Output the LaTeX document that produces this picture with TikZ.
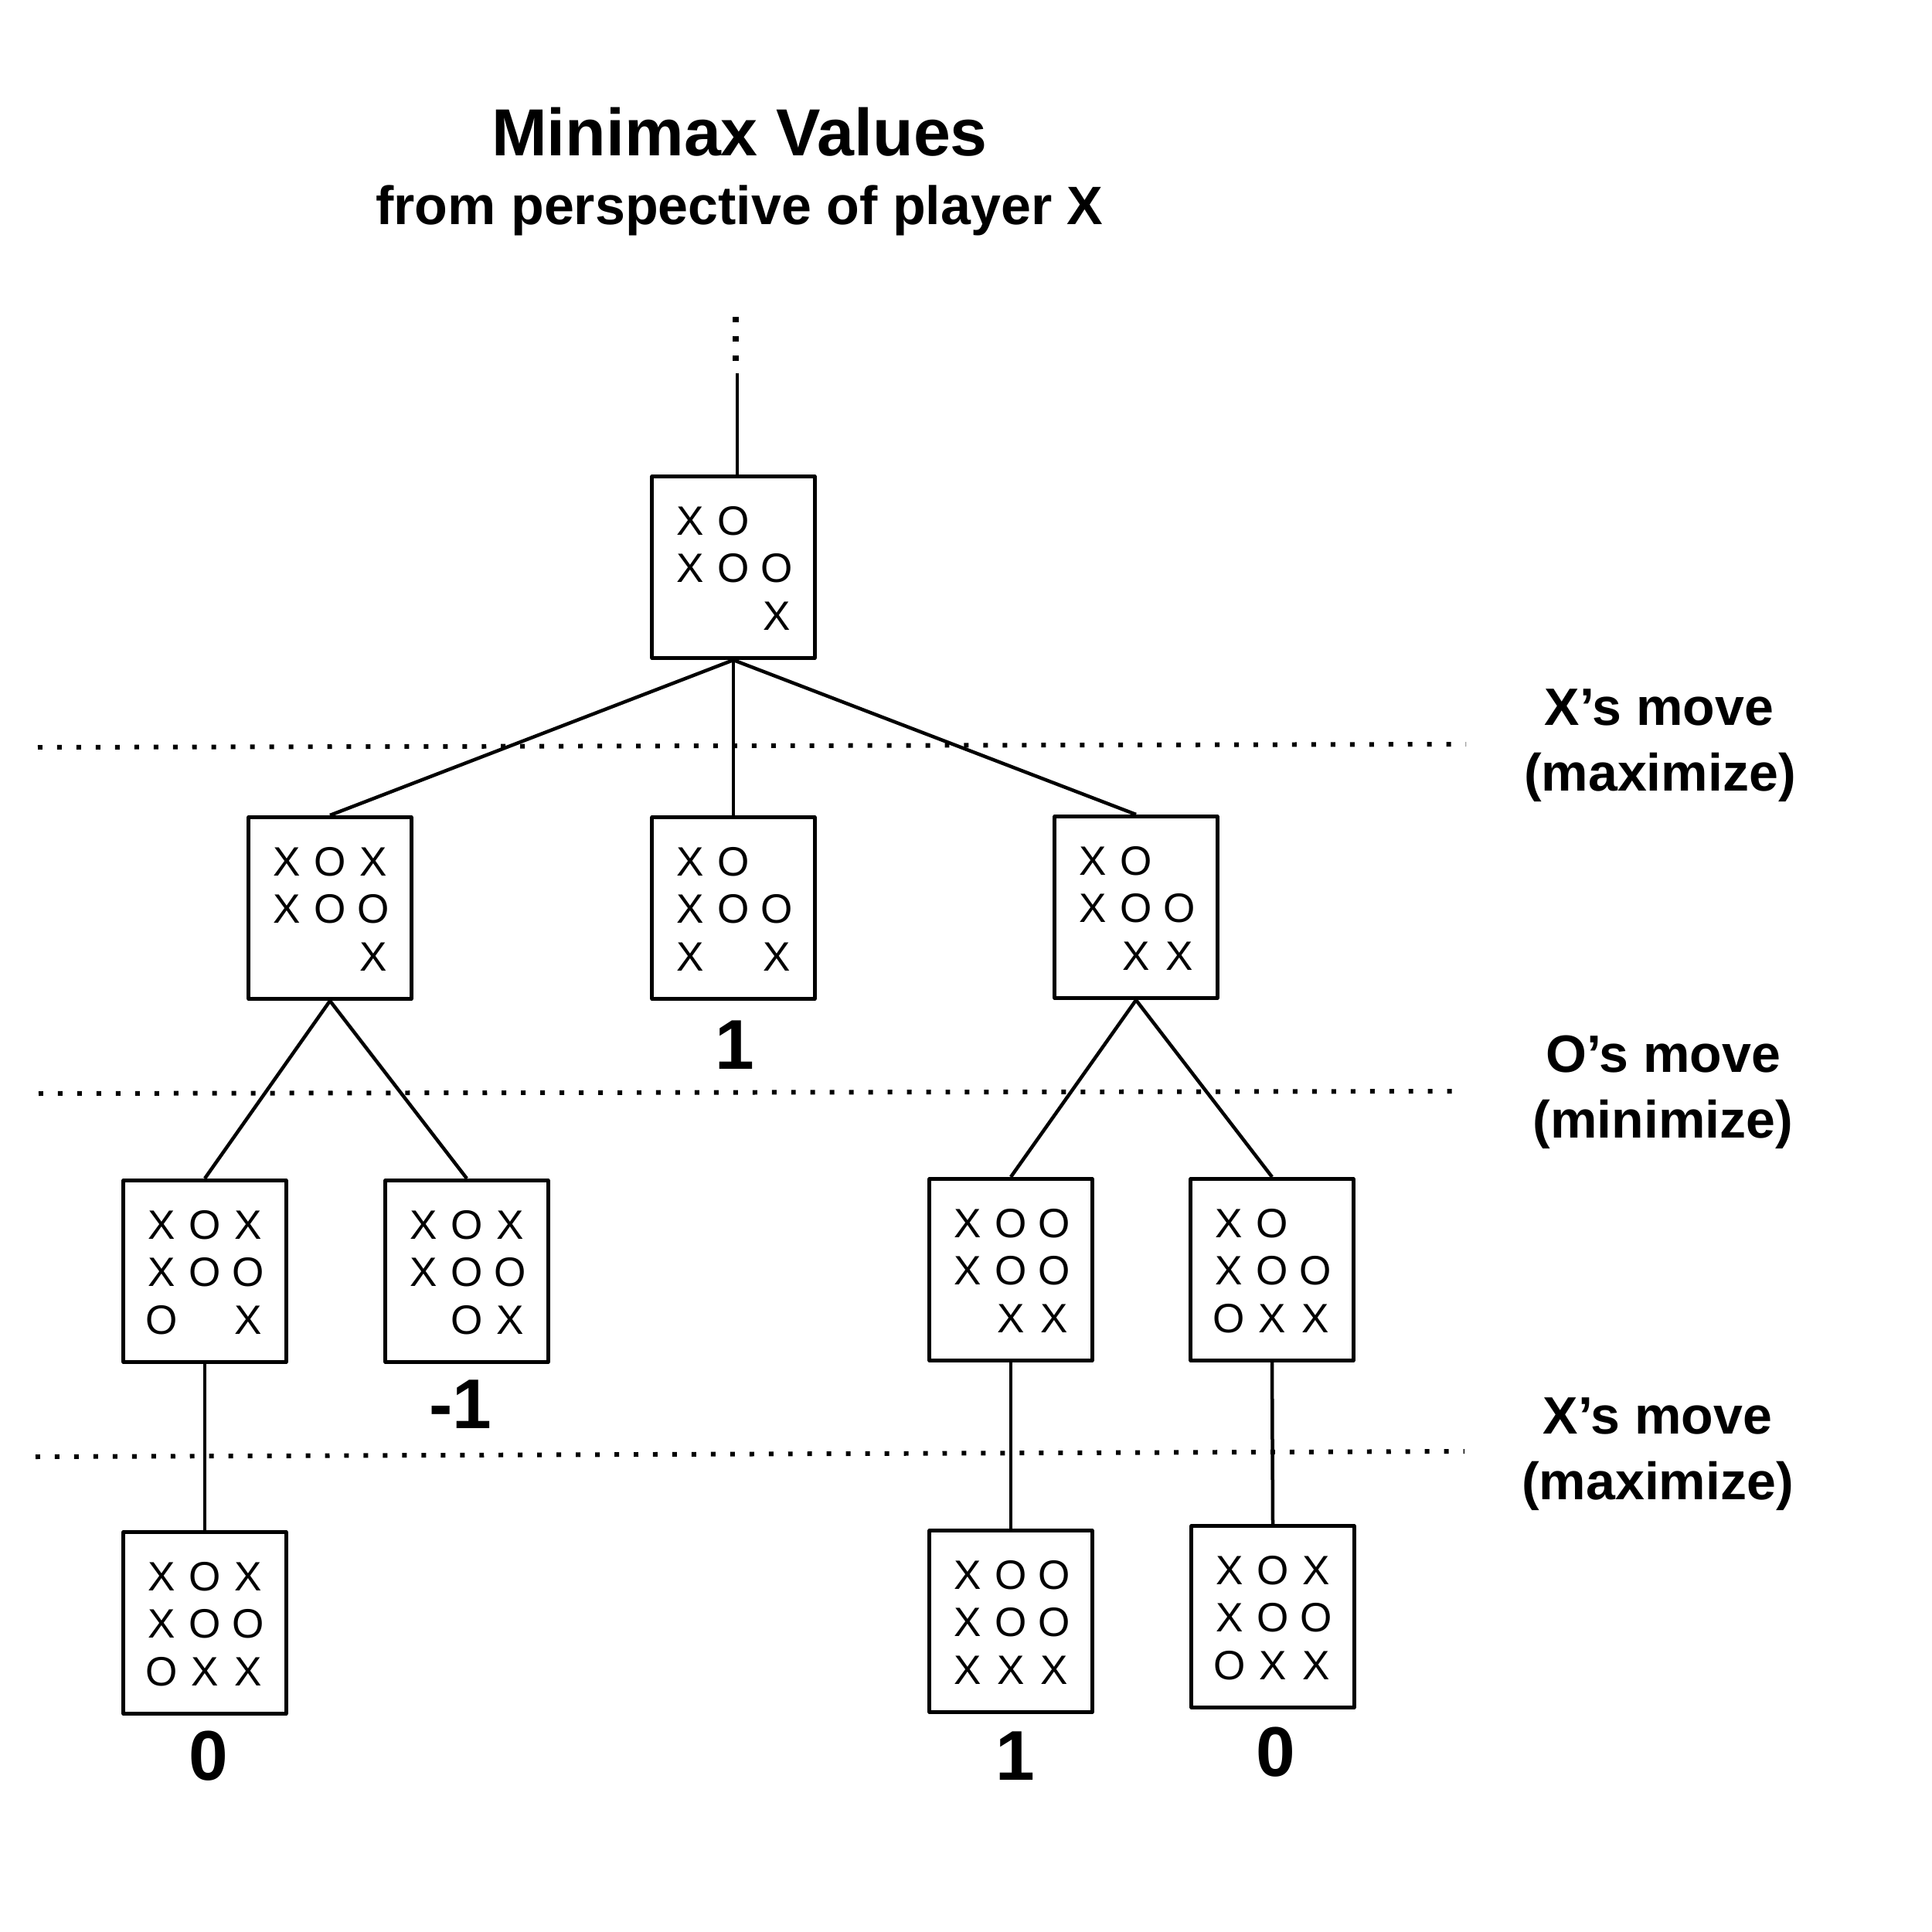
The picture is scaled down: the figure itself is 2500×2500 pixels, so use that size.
\documentclass[tikz,border=0pt]{standalone}
\usepackage{fontspec}
\setmainfont{Liberation Sans}
\begin{document}
\begin{tikzpicture}[x=0.01cm,y=-0.01cm,
  board/.style={draw, line width=1.42pt, line join=round, minimum width=2.1cm, minimum height=2.35cm, inner sep=0pt},
  cell/.style={anchor=base, inner sep=0pt, font=\fontsize{15.1pt}{18pt}\selectfont},
  edge/.style={line width=1.28pt},
  level/.style={line width=1.7pt, dash pattern=on 1.7pt off 5.4pt},
  value/.style={anchor=base, inner sep=0pt, font=\fontsize{25.9pt}{30pt}\selectfont\bfseries},
  side/.style={anchor=base, inner sep=0pt, font=\fontsize{19.35pt}{23pt}\selectfont\bfseries}]
\useasboundingbox (0,0) rectangle (2500,2500);

\newcommand\cellrow[3]{%
  \foreach \s [count=\k] in {#3} {%
    \if\s X\node[cell] at ([shift={({(\k-2)*56},{#2})}]#1.center) {X};\fi
    \if\s O\node[cell] at ([shift={({(\k-2)*56},{#2})}]#1.center) {O};\fi
  }}
\newcommand\tttboard[5]{%
  \node[board] (#1) at #2 {};
  \cellrow{#1}{-42}{#3}
  \cellrow{#1}{19.5}{#4}
  \cellrow{#1}{81}{#5}}

% title
\node[anchor=base, inner sep=0pt, font=\fontsize{24.5pt}{29pt}\selectfont\bfseries] (title) at (957,202) {Minimax Values};
\node[anchor=base, inner sep=0pt, font=\fontsize{19.9pt}{24pt}\selectfont\bfseries] (subtitle) at (957,290) {from perspective of player X};

% boards
\tttboard{n0}{(949,734)}{X,O,.}{X,O,O}{.,.,X}
\tttboard{nL}{(427,1175)}{X,O,X}{X,O,O}{.,.,X}
\tttboard{nM}{(949,1175)}{X,O,.}{X,O,O}{X,.,X}
\tttboard{nR}{(1470,1174)}{X,O,.}{X,O,O}{.,X,X}
\tttboard{nLL}{(265,1645)}{X,O,X}{X,O,O}{O,.,X}
\tttboard{nLR}{(604,1645)}{X,O,X}{X,O,O}{.,O,X}
\tttboard{nRL}{(1308,1643)}{X,O,O}{X,O,O}{.,X,X}
\tttboard{nRR}{(1646,1643)}{X,O,.}{X,O,O}{O,X,X}
\tttboard{nLLL}{(265,2100)}{X,O,X}{X,O,O}{O,X,X}
\tttboard{nRLL}{(1308,2098)}{X,O,O}{X,O,O}{X,X,X}
\tttboard{nRRR}{(1647,2092)}{X,O,X}{X,O,O}{O,X,X}

% incoming edge from above
\coordinate (dtop) at (952,410);
\coordinate (dbot) at (952,468);
\coordinate (tp) at (954,483);
\draw[line width=2pt, dash pattern=on 2pt off 5.1pt] (dtop) -- (dbot);
\draw[edge] (tp) -- (tp |- n0.north);

% edges
\draw[edge] (n0.south) -- (nL.north);
\draw[edge] (n0.south) -- (nM.north);
\draw[edge] (n0.south) -- (nR.north);
\draw[edge] (nL.south) -- (nLL.north);
\draw[edge] (nL.south) -- (nLR.north);
\draw[edge] (nR.south) -- (nRL.north);
\draw[edge] (nR.south) -- (nRR.north);
\draw[edge] (nLL.south) -- (nLLL.north);
\draw[edge] (nRL.south) -- (nRLL.north);
\draw[edge] (nRR.south) -- (nRRR.north);

% level separators
\coordinate (a1) at (49,967);  \coordinate (b1) at (1897,963);
\coordinate (a2) at (50,1415); \coordinate (b2) at (1897,1412);
\coordinate (a3) at (46,1885); \coordinate (b3) at (1895,1878);
\draw[level] (a1) -- (b1);
\draw[level] (a2) -- (b2);
\draw[level] (a3) -- (b3);

% side labels
\node[side] (s1a) at (2147,938) {X’s move};
\node[side] (s1b) at (2148,1023) {(maximize)};
\node[side] (s2a) at (2152,1387) {O’s move};
\node[side] (s2b) at (2152,1472) {(minimize)};
\node[side] (s3a) at (2145,1855) {X’s move};
\node[side] (s3b) at (2145,1940) {(maximize)};

% values
\node[value] (vM) at (951,1383) {1};
\node[value] (vLR) at (596,1848) {-1};
\node[value] (vLLL) at (270,2303) {0};
\node[value] (vRLL) at (1314,2303) {1};
\node[value] (vRRR) at (1651,2298) {0};
\end{tikzpicture}
\end{document}
